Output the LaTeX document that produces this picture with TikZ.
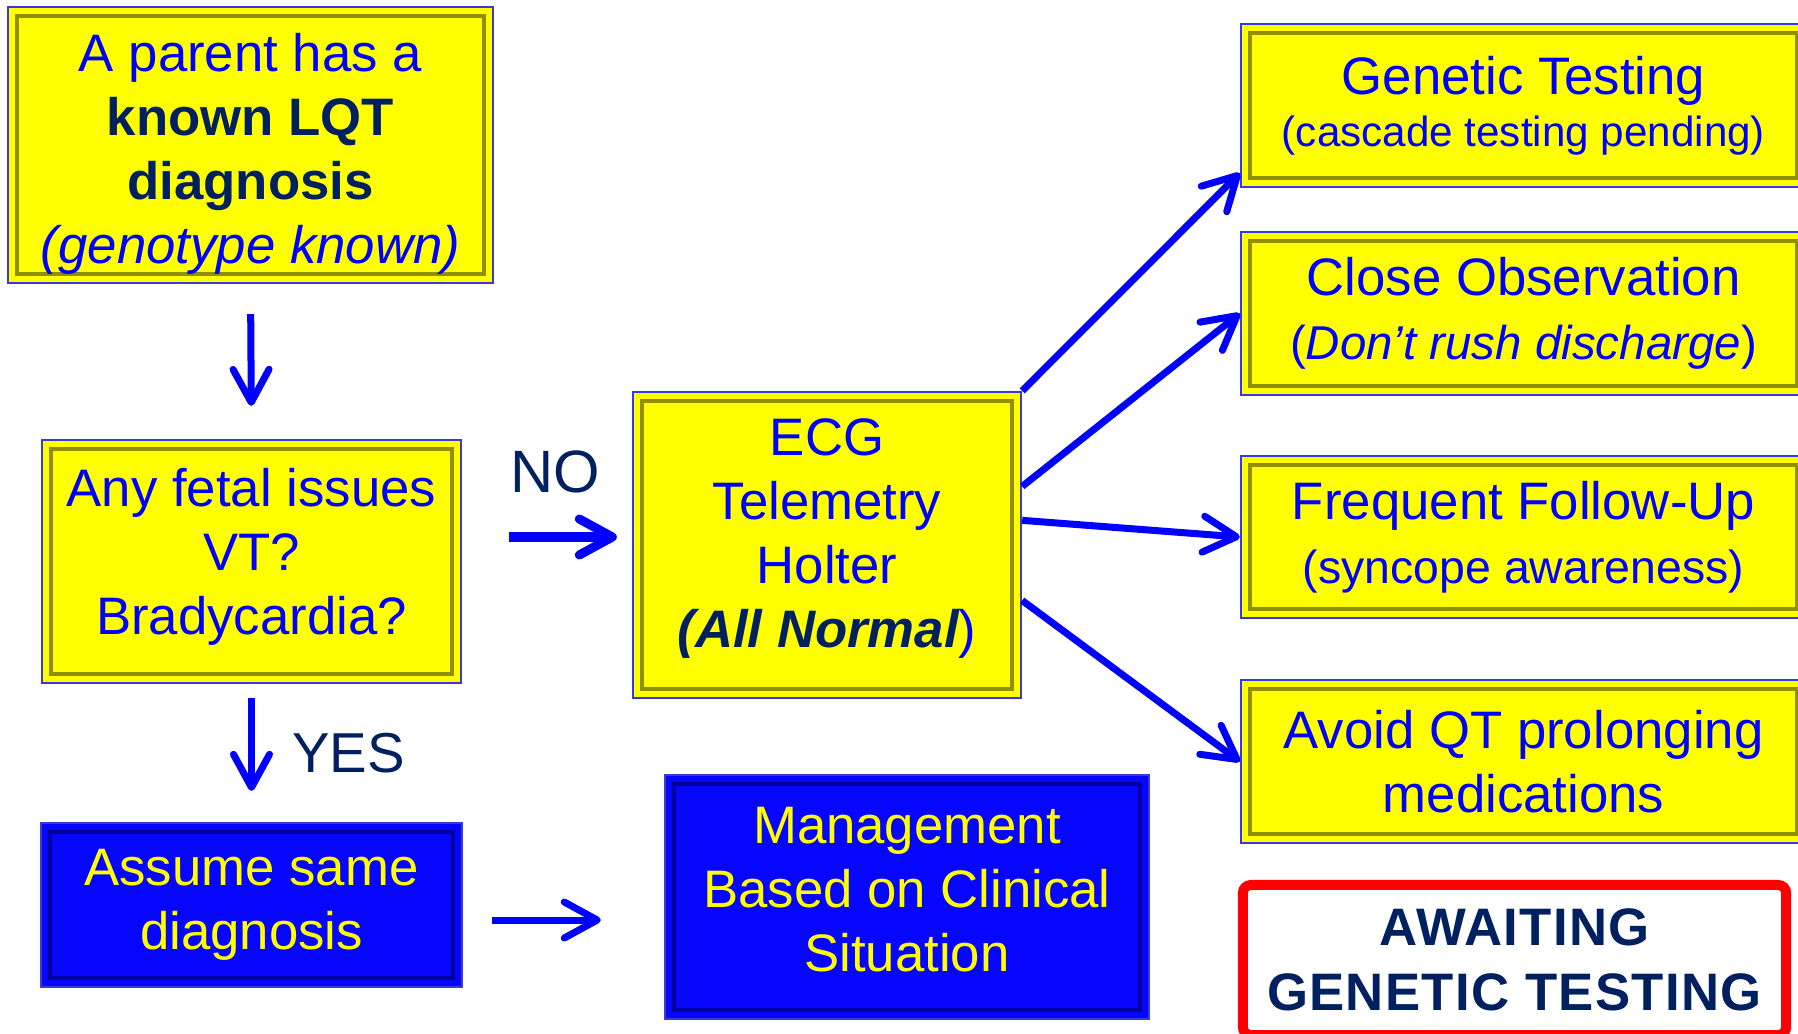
\documentclass[tikz,border=0pt]{standalone}
\usepackage{fontspec}
\setmainfont{Liberation Sans}
\usepackage{tikz}
\usetikzlibrary{arrows.meta,positioning,calc}
\definecolor{boxyellow}{HTML}{FFFF00}
\definecolor{txtblue}{HTML}{0000FF}
\definecolor{navy}{HTML}{002060}
\definecolor{rimblue}{HTML}{3A3AD8}
\definecolor{bevelolive}{HTML}{8F8F00}
\definecolor{boxblue}{HTML}{0606FF}
\definecolor{beveldark}{HTML}{0000A0}

\begin{document}
\begin{tikzpicture}[
    x=0.01cm, y=-0.01cm,
    bevel/.style={path picture={
        \draw[#1, line width=0.045cm]
          ([shift={(0.09cm,0.09cm)}]path picture bounding box.south west) rectangle
          ([shift={(-0.09cm,-0.09cm)}]path picture bounding box.north east);}},
    box/.style={draw=rimblue, line width=0.6pt, align=center, inner sep=0pt, font=\fontsize{15}{18.2}\selectfont},
    yellowbox/.style={box, fill=boxyellow, text=txtblue, bevel=bevelolive},
    bluebox/.style={box, fill=boxblue, text=boxyellow, bevel=beveldark},
    notebox/.style={draw=red, line width=0.1cm, rounded corners=0.08cm, fill=white, align=center, inner sep=0pt, text=navy, font=\fontsize{15}{18.5}\selectfont\bfseries\addfontfeatures{LetterSpace=2.5}},
    lbl/.style={text=navy, inner sep=0pt},
    flow/.style={draw=txtblue, line width=0.07cm, -{Straight Barb[length=0.33cm, width=0.36cm, round]}}
]
    \useasboundingbox (0,0) rectangle (1798,1033);

    % Left column
    \node[yellowbox, minimum width=4.85cm, minimum height=2.76cm] (parent) at (250.5,145)
        {\rule{0pt}{16pt}A parent has a\\ \textcolor{navy}{\bfseries known LQT}\\ \textcolor{navy}{\bfseries diagnosis}\\ \textit{(genotype known)}};
    \node[yellowbox, minimum width=4.19cm, minimum height=2.43cm] (fetal) at (251.5,561.5)
        {Any fetal issues\\ VT?\\ Bradycardia?\rule[-6pt]{0pt}{0pt}};
    \node[bluebox, minimum width=4.21cm, minimum height=1.64cm] (assume) at (251.5,905)
        {Assume same\\ diagnosis};

    % Middle column
    \node[yellowbox, minimum width=3.88cm, minimum height=3.06cm] (ecg) at (827,545)
        {ECG\\ Telemetry\\ Holter\\ \textcolor{navy}{\bfseries\itshape (All Normal})\rule[-7pt]{0pt}{0pt}};
    \node[bluebox, minimum width=4.84cm, minimum height=2.44cm] (mgmt) at (907,897)
        {Management\\ Based on Clinical\\ Situation\rule[-4.5pt]{0pt}{0pt}};

    % Right column
    \node[yellowbox, minimum width=5.65cm, minimum height=1.63cm] (gen) at (1523.5,105.5)
        {Genetic Testing\\[-3.4pt] {\fontsize{12}{14}\selectfont (cascade testing pending)}};
    \node[yellowbox, minimum width=5.65cm, minimum height=1.63cm] (obs) at (1523.5,313.5)
        {Close Observation\\ {\fontsize{13.5}{16}\selectfont (\textit{Don't rush discharge})}};
    \node[yellowbox, minimum width=5.65cm, minimum height=1.62cm] (fup) at (1523.5,537)
        {Frequent Follow-Up\\ {\fontsize{13.2}{16}\selectfont (syncope awareness)}};
    \node[yellowbox, minimum width=5.65cm, minimum height=1.63cm] (avoid) at (1523.5,761.5)
        {Avoid QT prolonging\\ medications};
    \node[notebox, minimum width=5.43cm, minimum height=1.5cm] (await) at (1514.5,960)
        {AWAITING\\ GENETIC TESTING};

    % Flow arrows
    \draw[flow, shorten <=0.3cm, shorten >=0.33cm] (parent.south) -- (fetal.north);
    \draw[flow, line width=0.09cm, shorten <=0.47cm, shorten >=0.15cm]
        ([yshift=0.245cm]fetal.east) -- ([yshift=0.245cm]fetal.east -| ecg.west)
        node[lbl, font=\fontsize{17}{20}\selectfont, pos=0.55, above=0.39cm] {NO};
    \draw[flow, shorten <=0.14cm, shorten >=0.31cm] (fetal.south) -- (assume.north)
        node[lbl, font=\fontsize{16}{19}\selectfont, midway, right=0.37cm] {YES};
    \draw[flow, shorten <=0.29cm, shorten >=0.63cm]
        ([yshift=-0.15cm]assume.east) -- ([yshift=-0.15cm]assume.east -| mgmt.west);

    % Outcomes
    \draw[flow] (ecg.north east) -- ([yshift=0.15cm]gen.south west);
    \draw[flow] ($(ecg.north east)!0.31!(ecg.south east)$) -- (obs.west);
    \draw[flow] ($(ecg.north east)!0.42!(ecg.south east)$) -- (fup.west);
    \draw[flow] ($(ecg.north east)!0.68!(ecg.south east)$) -- (avoid.west);

\end{tikzpicture}
\end{document}
